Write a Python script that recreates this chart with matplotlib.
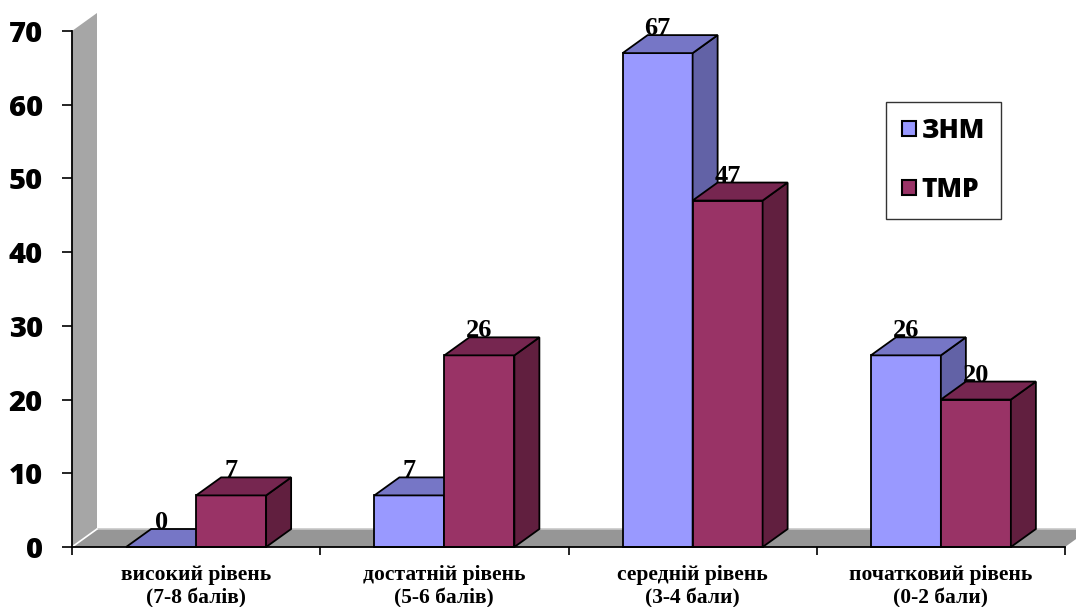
import matplotlib
matplotlib.use("Agg")
import matplotlib.pyplot as plt
from matplotlib.patches import Polygon, Patch

# Розподіл учнів за рівнями (%)
categories = ["високий рівень\n(7-8 балів)", "достатній рівень\n(5-6 балів)",
              "середній рівень\n(3-4 бали)", "початковий рівень\n(0-2 бали)"]
znm_values = [0, 7, 67, 26]
tmr_values = [7, 26, 47, 20]
series_names = ["ЗНМ", "ТМР"]

# front / top / side shades for each series
znm_colors = ("#9999FF", "#7676C6", "#6262A6")
tmr_colors = ("#993366", "#762650", "#611F3F")

W, H = 1076, 607
fig = plt.figure(figsize=(W / 100, H / 100), dpi=100)
ax = fig.add_axes([72 / W, 60 / H, (1065 - 72) / W, (547 - 31) / H])
ax.set_xlim(0, len(categories))
ax.set_ylim(0, 70)

# depth of the fake 3d extrusion, in data units
dx = 25 / 248.25
dy = 18 / (516 / 70)
bar_w = 70 / 248.25


def add_poly(pts, fc, ec="none", lw=0, z=1):
    p = Polygon(pts, closed=True, facecolor=fc, edgecolor=ec, linewidth=lw,
                zorder=z, clip_on=False, joinstyle="miter")
    ax.add_patch(p)


# side wall and floor
add_poly([(0, 0), (0, 70), (dx, 70 + dy), (dx, dy)], "#A6A6A6", z=0.5)
add_poly([(0, 0), (4, 0), (4 + dx, dy), (dx, dy)], "#969696", z=0.6)
ax.plot([dx, 4 + dx], [dy, dy], color="#C8C8C8", lw=1.2, zorder=0.7, clip_on=False)
ax.plot([0, dx], [0, dy], color="white", lw=1.2, zorder=0.7, clip_on=False)


def draw_bar(x0, val, colors):
    front, top, side = colors
    x1 = x0 + bar_w
    ec, lw = "black", 1.3
    if val > 0:
        add_poly([(x0, 0), (x1, 0), (x1, val), (x0, val)], front, ec, lw, z=2)
        add_poly([(x1, 0), (x1 + dx, dy), (x1 + dx, val + dy), (x1, val)], side, ec, lw, z=2)
    add_poly([(x0, val), (x1, val), (x1 + dx, val + dy), (x0 + dx, val + dy)], top, ec, lw, z=2)
    ax.text(x0 + bar_w / 2, val + dy, str(val), ha="center", va="baseline",
            fontsize=19, fontweight="bold", family="Liberation Serif", zorder=4)


for i in range(len(categories)):
    c = i + 0.5
    draw_bar(c - bar_w, znm_values[i], znm_colors)
    draw_bar(c, tmr_values[i], tmr_colors)

# axes styling
for s in ("top", "right"):
    ax.spines[s].set_visible(False)
for s in ("left", "bottom"):
    ax.spines[s].set_linewidth(1.3)
    ax.spines[s].set_zorder(3)

ax.set_yticks(range(0, 71, 10))
ax.tick_params(axis="y", direction="out", length=7, width=1.2, pad=14)
for lbl in ax.get_yticklabels():
    lbl.set_fontfamily("Open Sans")
    lbl.set_fontweight(800)
    lbl.set_fontsize(21)

ax.set_xticks(range(0, len(categories) + 1))
ax.set_xticklabels([])
ax.tick_params(axis="x", which="major", direction="out", length=6, width=1.2)
ax.set_xticks([i + 0.5 for i in range(len(categories))], minor=True)
ax.set_xticklabels(categories, minor=True, fontsize=15.5, fontweight="bold",
                   family="Liberation Serif", linespacing=1.25)
ax.tick_params(axis="x", which="minor", length=0, pad=13)

handles = [Patch(facecolor=znm_colors[0], edgecolor="black", linewidth=1.5),
           Patch(facecolor=tmr_colors[0], edgecolor="black", linewidth=1.5)]
leg = fig.legend(handles, series_names, loc="upper left",
                 bbox_to_anchor=(886 / W, 1 - 102 / H),
                 prop={"family": "Open Sans", "weight": 800, "size": 19},
                 frameon=True, fancybox=False, edgecolor="black",
                 handlelength=0.55, handleheight=0.55, handletextpad=0.2,
                 labelspacing=1.25, borderpad=0.6, borderaxespad=0)
leg.get_frame().set_linewidth(1.0)

fig.savefig("out.png", dpi=100)
